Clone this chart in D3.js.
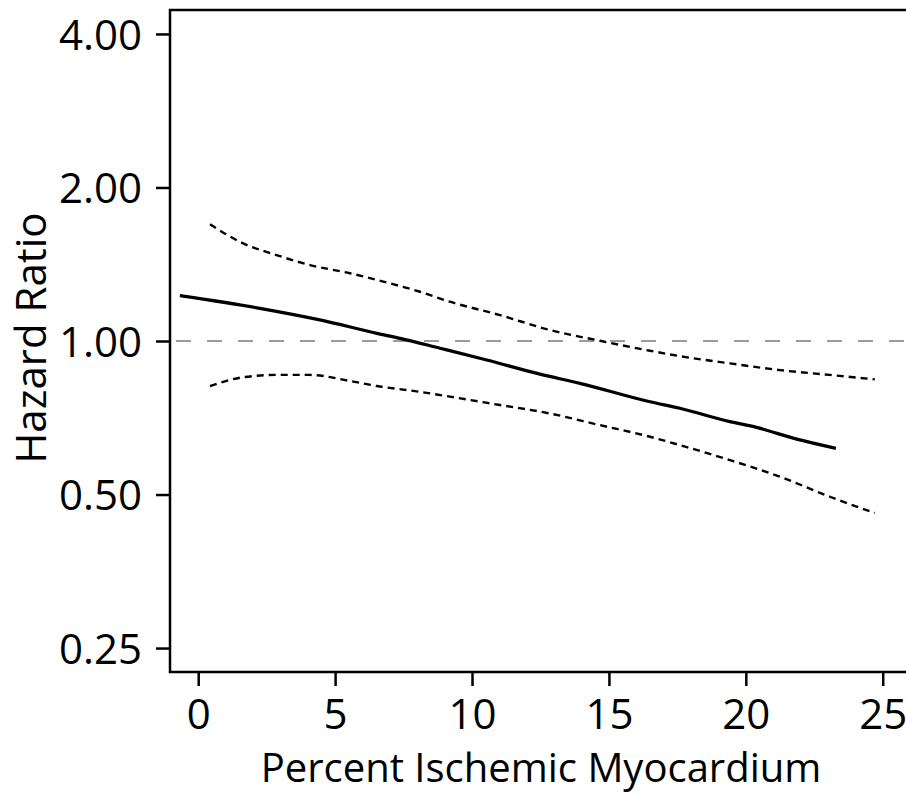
<!DOCTYPE html>
<html>
<head>
<meta charset="utf-8">
<script src="https://cdn.jsdelivr.net/npm/d3@7"></script>
<style>
  body { margin: 0; background: #fff; }
  text { font-family: "Open Sans", "Noto Sans", sans-serif; fill: #000; }
</style>
</head>
<body>
<div id="chart"></div>
<script>
// percent ischemic myocardium (x) and hazard ratio estimates
const estX  = [-0.67, 2.25, 4.44, 6.53, 7.37, 8.83, 10.54, 12.48, 13.94, 16.50, 17.59, 19.42, 20.39, 21.86, 23.29];
const estHR = [1.227, 1.159, 1.100, 1.035, 1.012, 0.968, 0.918, 0.861, 0.826, 0.760, 0.738, 0.695, 0.677, 0.642, 0.616];

const ciX     = [0.43, 1.64, 2.86, 4.08, 5.54, 6.53, 8.10, 9.19, 11.02, 12.84, 14.67, 16.50, 17.59, 19.42, 21.24, 23.07, 24.71];
const upperHR = [1.694, 1.554, 1.474, 1.409, 1.358, 1.317, 1.249, 1.194, 1.124, 1.051, 1.001, 0.957, 0.934, 0.904, 0.877, 0.858, 0.841];
const lowerHR = [0.816, 0.849, 0.858, 0.858, 0.835, 0.816, 0.795, 0.778, 0.749, 0.721, 0.684, 0.649, 0.625, 0.584, 0.542, 0.495, 0.460];

const xTicks = [0, 5, 10, 15, 20, 25];
const yTicks = [0.25, 0.5, 1, 2, 4];

const width = 906, height = 794;
const margin = { top: 10, right: 0, bottom: 122, left: 170 };

const svg = d3.select('#chart').append('svg')
  .attr('width', width)
  .attr('height', height);

const xScale = d3.scaleLinear()
  .domain([-1.03, 25.85])
  .range([margin.left, width - margin.right]);

const yScale = d3.scaleLog()
  .base(2)
  .domain([Math.pow(2, -2.156), Math.pow(2, 2.156)])
  .range([height - margin.bottom, margin.top]);

// reference line at HR = 1
svg.append('line')
  .attr('x1', margin.left).attr('x2', width)
  .attr('y1', yScale(1)).attr('y2', yScale(1))
  .attr('stroke', '#9a9a9a')
  .attr('stroke-width', 2)
  .attr('stroke-dasharray', '15,16')
  .attr('stroke-dashoffset', -6);

const line = d3.line()
  .x(d => xScale(d[0]))
  .y(d => yScale(d[1]))
  .curve(d3.curveMonotoneX);

svg.append('path')
  .datum(d3.zip(ciX, upperHR))
  .attr('d', line)
  .attr('fill', 'none')
  .attr('stroke', '#000')
  .attr('stroke-width', 2.4)
  .attr('stroke-dasharray', '7,5');

svg.append('path')
  .datum(d3.zip(ciX, lowerHR))
  .attr('d', line)
  .attr('fill', 'none')
  .attr('stroke', '#000')
  .attr('stroke-width', 2.4)
  .attr('stroke-dasharray', '7,5');

svg.append('path')
  .datum(d3.zip(estX, estHR))
  .attr('d', line)
  .attr('fill', 'none')
  .attr('stroke', '#000')
  .attr('stroke-width', 3.2);

// axes
const xAxis = d3.axisBottom(xScale)
  .tickValues(xTicks)
  .tickSize(14)
  .tickPadding(13)
  .tickSizeOuter(0);

const gx = svg.append('g')
  .attr('transform', `translate(0,${height - margin.bottom})`)
  .call(xAxis);

const yAxis = d3.axisLeft(yScale)
  .tickValues(yTicks)
  .tickFormat(d3.format('.2f'))
  .tickSize(14)
  .tickPadding(14)
  .tickSizeOuter(0);

const gy = svg.append('g')
  .attr('transform', `translate(${margin.left},0)`)
  .call(yAxis);

[gx, gy].forEach(g => {
  g.select('.domain').remove();
  g.selectAll('.tick line').attr('stroke', '#000').attr('stroke-width', 2.5);
  g.selectAll('.tick text').style('font-size', '42px').attr('fill', '#000');
});
gy.selectAll('.tick text').attr('dy', '0.36em');

// frame: left, top and bottom
svg.append('path')
  .attr('d', `M${width},${margin.top}H${margin.left}V${height - margin.bottom}H${width}`)
  .attr('fill', 'none')
  .attr('stroke', '#000')
  .attr('stroke-width', 2.5);

svg.append('text')
  .attr('x', (margin.left + width) / 2 + 3)
  .attr('y', 782)
  .attr('text-anchor', 'middle')
  .style('font-size', '40px')
  .text('Percent Ischemic Myocardium');

svg.append('text')
  .attr('transform', `translate(46,${338}) rotate(-90)`)
  .attr('text-anchor', 'middle')
  .style('font-size', '42px')
  .text('Hazard Ratio');
</script>
</body>
</html>
